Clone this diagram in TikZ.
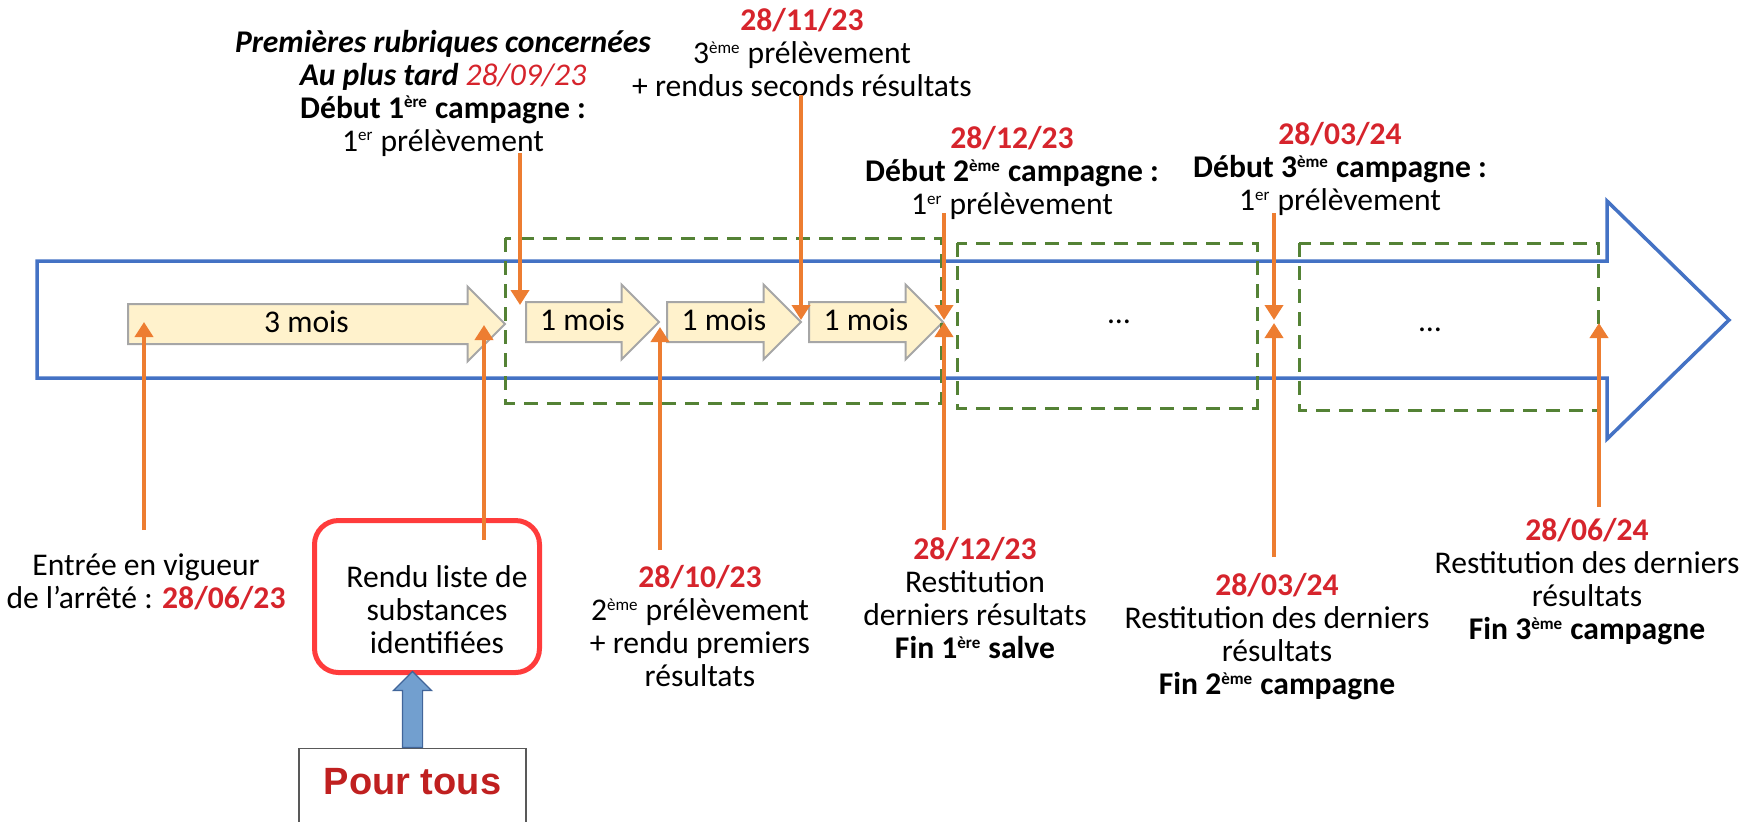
\documentclass[tikz,border=0pt]{standalone}
\usepackage{fontspec}
\setmainfont{Carlito}
\newfontfamily\arialfont{Liberation Sans}
\usetikzlibrary{arrows.meta,shapes.arrows,positioning}

\definecolor{datered}{RGB}{214,36,44}
\definecolor{lineorange}{RGB}{237,125,49}
\definecolor{boxgreen}{RGB}{84,130,53}
\definecolor{axisblue}{RGB}{68,114,196}
\definecolor{monthfill}{RGB}{255,242,204}
\definecolor{monthedge}{RGB}{166,166,166}
\definecolor{rendured}{RGB}{255,60,60}
\definecolor{tousred}{RGB}{192,32,32}
\definecolor{upfill}{RGB}{114,159,207}
\definecolor{upedge}{RGB}{65,101,154}

\newcommand{\dt}[1]{\textcolor{datered}{\textbf{#1}}}
\newcommand{\ord}[1]{\textsuperscript{\fontsize{8.5pt}{8.5pt}\selectfont #1}}

\begin{document}
\begin{tikzpicture}[x=50pt, y=-50pt,
        every node/.style={font=\fontsize{15.8pt}{16.5pt}\selectfont, align=center, inner sep=0pt},
        month/.style={single arrow, draw=monthedge, line width=1pt, fill=monthfill, anchor=tail,
            single arrow head extend=8.75pt, single arrow head indent=0pt,
            text height=9pt, text depth=1pt, inner xsep=2pt, inner ysep=4.5pt},
        campaign/.style={draw=boxgreen, line width=1.5pt, dash pattern=on 7pt off 4.5pt},
        event/.style={draw=lineorange, line width=2pt, -{Triangle[width=9pt,length=7.5pt]}},
        rendu/.style={draw=rendured, line width=2.5pt, rounded corners=12pt,
            minimum width=112.5pt, minimum height=76pt},
        tous/.style={draw=black!65, line width=0.6pt, anchor=north, minimum width=113.5pt,
            text height=14pt, text depth=12pt, inner ysep=8.75pt, text=tousred,
            font=\arialfont\bfseries\fontsize{19pt}{19pt}\selectfont},
        uparrow/.style={single arrow, draw=upedge, fill=upfill, line width=0.6pt, anchor=tail,
            shape border rotate=90, inner sep=4.75pt, minimum height=38pt,
            single arrow head extend=4.5pt, single arrow head indent=0pt}]
    	% Timeline, periods and campaigns:
    	\clip (0,0) rectangle (17.55,8.21);
    	\draw[axisblue, line width=1.75pt] (0.37,2.61) -- (16.07,2.61) -- (16.07,2.01) -- (17.29,3.20)
    	    -- (16.07,4.39) -- (16.07,3.78) -- (0.37,3.78) -- cycle;
    	\node[month, minimum height=188.5pt] (m3) at (1.27,3.24) {3 mois};
    	\node[month, minimum height=66.5pt] (m1a) at (5.25,3.22) {1 mois};
    	\node[month, minimum height=67pt] (m1b) at (6.66,3.22) {1 mois};
    	\node[month, minimum height=67pt] (m1c) at (8.08,3.22) {1 mois};
    	\draw[campaign] (5.05,2.38) rectangle (9.41,4.03);
    	\draw[campaign] (9.57,2.43) rectangle (12.57,4.08);
    	\draw[campaign] (12.99,2.43) rectangle (15.98,4.10);
    	\node (dots2) at (11.19,3.22) {…};
    	\node (dots3) at (14.30,3.30) {…};

    	% Labels above the timeline:
    	\node (firststart) at (4.43,0.93) {\textbf{\textit{Premières rubriques concernées}}\\
    	    \textbf{\textit{Au plus tard}} \textcolor{datered}{\textit{28/09/23}}\\
    	    \textbf{Début 1\ord{ère} campagne :}\\ 1\ord{er} prélèvement};
    	\node (third) at (8.02,0.53) {\dt{28/11/23}\\ 3\ord{ème} prélèvement\\ + rendus seconds résultats};
    	\node (secstart) at (10.12,1.73) {\dt{28/12/23}\\ \textbf{Début 2\ord{ème} campagne :}\\ 1\ord{er} prélèvement};
    	\node (thirdstart) at (13.40,1.69) {\dt{28/03/24}\\ \textbf{Début 3\ord{ème} campagne :}\\ 1\ord{er} prélèvement};

    	% Labels below the timeline:
    	\node (entree) at (1.46,5.82) {Entrée en vigueur\\ de l’arrêté : \dt{28/06/23}};
    	\node[rendu] (liste) at (4.27,5.965) {};
    	\node (listetext) at (4.37,6.10) {Rendu liste de\\ substances\\ identifiées};
    	\node[tous] (pour) at (4.125,7.48) {Pour tous};
    	\node[uparrow] (up) at (pour.north) {};
    	\node (second) at (7.00,6.26) {\dt{28/10/23}\\ 2\ord{ème} prélèvement\\ + rendu premiers\\ résultats};
    	\node (firstend) at (9.75,5.985) {\dt{28/12/23}\\ Restitution\\ derniers résultats\\ \textbf{Fin 1\ord{ère} salve}};
    	\node (secend) at (12.77,6.37) {\dt{28/03/24}\\ Restitution des derniers\\ résultats\\ \textbf{Fin 2\ord{ème} campagne}};
    	\node (thirdend) at (15.87,5.82) {\dt{28/06/24}\\ Restitution des derniers\\ résultats\\ \textbf{Fin 3\ord{ème} campagne}};

    	% Orange markers:
    	\coordinate (firsttop) at (5.20,1.53);   \coordinate (firstpt) at (5.20,3.05);
    	\coordinate (thirdtop) at (8.01,0.95);   \coordinate (thirdpt) at (8.01,3.20);
    	\coordinate (sectop) at (9.44,2.13);     \coordinate (secpt) at (9.44,3.20);
    	\coordinate (lasttop) at (12.74,2.13);   \coordinate (lastpt) at (12.74,3.20);
    	\coordinate (entreebot) at (1.44,5.30);  \coordinate (entreept) at (1.44,3.22);
    	\coordinate (listebot) at (4.84,5.40);   \coordinate (listept) at (4.84,3.25);
    	\coordinate (secondbot) at (6.60,5.50);  \coordinate (secondpt) at (6.60,3.27);
    	\coordinate (fe1bot) at (9.44,5.30);     \coordinate (fe1pt) at (9.44,3.22);
    	\coordinate (fe2bot) at (12.74,5.57);    \coordinate (fe2pt) at (12.74,3.23);
    	\coordinate (fe3bot) at (15.99,5.07);    \coordinate (fe3pt) at (15.99,3.23);
    	\draw[event] (firsttop) -- (firstpt);
    	\draw[event] (thirdtop) -- (thirdpt);
    	\draw[event] (sectop) -- (secpt);
    	\draw[event] (lasttop) -- (lastpt);
    	\draw[event] (entreebot) -- (entreept);
    	\draw[event] (listebot) -- (listept);
    	\draw[event] (secondbot) -- (secondpt);
    	\draw[event] (fe1bot) -- (fe1pt);
    	\draw[event] (fe2bot) -- (fe2pt);
    	\draw[event] (fe3bot) -- (fe3pt);
    \end{tikzpicture}
\end{document}
